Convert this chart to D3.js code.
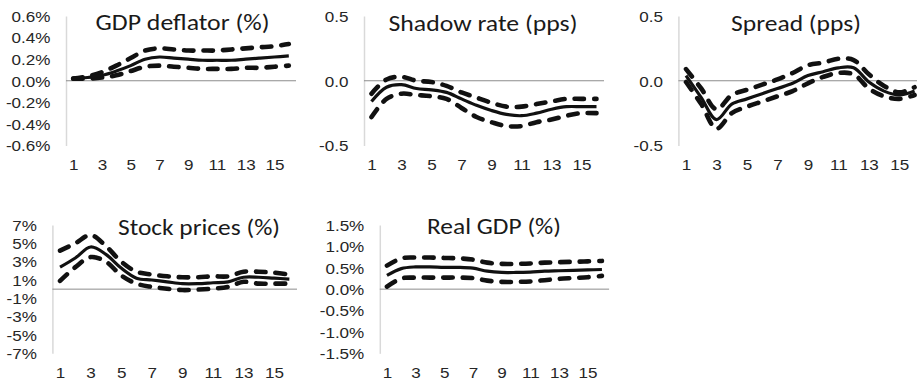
<!DOCTYPE html>
<html>
<head>
<meta charset="utf-8">
<script src="https://cdn.jsdelivr.net/npm/d3@7"></script>
<style>
  html, body { margin: 0; padding: 0; background: #fff; }
  svg { display: block; }
</style>
</head>
<body>
<svg id="chart" width="917" height="385"></svg>
<script>
// Impulse-response horizons and axis labels
const horizons = d3.range(1, 17);
const xTickLabels = [1, 3, 5, 7, 9, 11, 13, 15];

const deflatorTicks = [-0.6, -0.4, -0.2, 0, 0.2, 0.4, 0.6];
const rateTicks = [-0.5, 0, 0.5];
const stockTicks = [-7, -5, -3, -1, 1, 3, 5, 7];
const realGdpTicks = [-1.5, -1, -0.5, 0, 0.5, 1, 1.5];

// GDP deflator (%)
const deflatorMedian = [0.02, 0.03, 0.05, 0.09, 0.14, 0.20, 0.22, 0.21, 0.20, 0.19, 0.19, 0.19, 0.20, 0.21, 0.22, 0.23];
const deflatorUpper  = [0.02, 0.04, 0.08, 0.14, 0.21, 0.28, 0.30, 0.29, 0.28, 0.28, 0.28, 0.29, 0.30, 0.31, 0.32, 0.34];
const deflatorLower  = [0.02, 0.02, 0.03, 0.05, 0.09, 0.13, 0.14, 0.13, 0.12, 0.11, 0.11, 0.11, 0.12, 0.12, 0.13, 0.14];

// Shadow rate (pps)
const shadowMedian = [-0.16, -0.05, -0.03, -0.06, -0.07, -0.09, -0.14, -0.19, -0.23, -0.26, -0.27, -0.25, -0.22, -0.20, -0.20, -0.20];
const shadowUpper  = [-0.10, 0.01, 0.03, 0.00, -0.01, -0.04, -0.09, -0.13, -0.17, -0.20, -0.20, -0.18, -0.16, -0.14, -0.14, -0.14];
const shadowLower  = [-0.28, -0.14, -0.10, -0.11, -0.12, -0.14, -0.21, -0.28, -0.32, -0.35, -0.35, -0.32, -0.30, -0.27, -0.25, -0.25];

// Spread (pps)
const spreadMedian = [0.04, -0.13, -0.30, -0.18, -0.14, -0.10, -0.06, -0.02, 0.04, 0.07, 0.10, 0.10, -0.01, -0.08, -0.11, -0.08];
const spreadUpper  = [0.09, -0.06, -0.22, -0.11, -0.07, -0.03, 0.01, 0.06, 0.12, 0.14, 0.17, 0.16, 0.05, -0.04, -0.09, -0.05];
const spreadLower  = [-0.01, -0.18, -0.37, -0.25, -0.20, -0.16, -0.12, -0.08, -0.02, 0.03, 0.06, 0.05, -0.06, -0.12, -0.14, -0.11];

// Stock prices (%)
const stockMedian = [2.4, 3.4, 4.6, 3.8, 2.3, 1.2, 1.0, 0.8, 0.6, 0.6, 0.7, 0.8, 1.3, 1.3, 1.2, 1.1];
const stockUpper  = [4.2, 5.0, 5.9, 4.7, 3.0, 1.9, 1.6, 1.4, 1.3, 1.3, 1.4, 1.4, 1.9, 1.9, 1.8, 1.6];
const stockLower  = [0.9, 2.4, 3.5, 3.0, 1.5, 0.6, 0.25, 0.05, -0.1, -0.05, 0.05, 0.25, 0.8, 0.6, 0.6, 0.6];

// Real GDP (%)
const realGdpMedian = [0.32, 0.48, 0.52, 0.52, 0.51, 0.51, 0.49, 0.42, 0.39, 0.39, 0.40, 0.42, 0.43, 0.44, 0.45, 0.46];
const realGdpUpper  = [0.55, 0.72, 0.74, 0.74, 0.73, 0.72, 0.69, 0.62, 0.59, 0.59, 0.60, 0.62, 0.63, 0.64, 0.65, 0.66];
const realGdpLower  = [0.06, 0.25, 0.27, 0.27, 0.27, 0.27, 0.26, 0.20, 0.17, 0.17, 0.18, 0.21, 0.24, 0.26, 0.28, 0.31];

const pct1 = d => d.toFixed(1) + "%";
const pct0 = d => d.toFixed(0) + "%";
const num1 = d => d.toFixed(1);

const panels = [
  { title: "GDP deflator (%)", median: deflatorMedian, upper: deflatorUpper, lower: deflatorLower,
    domain: [-0.6, 0.6], ticks: deflatorTicks, fmt: pct1,
    left: 66, width: 230, top: 16, bottom: 145.5, labelY: 170, titleX: 182.6, titleY: 30, titleW: 174 },
  { title: "Shadow rate (pps)", median: shadowMedian, upper: shadowUpper, lower: shadowLower,
    domain: [-0.5, 0.5], ticks: rateTicks, fmt: num1,
    left: 364, width: 240, top: 16, bottom: 145.5, labelY: 170, titleX: 483, titleY: 31, titleW: 189 },
  { title: "Spread (pps)", median: spreadMedian, upper: spreadUpper, lower: spreadLower,
    domain: [-0.5, 0.5], ticks: rateTicks, fmt: num1,
    left: 678.4, width: 243.8, top: 16, bottom: 145.5, labelY: 170, titleX: 796, titleY: 31, titleW: 130 },
  { title: "Stock prices (%)", median: stockMedian, upper: stockUpper, lower: stockLower,
    domain: [-7, 7], ticks: stockTicks, fmt: pct0,
    left: 52.4, width: 244.6, top: 225, bottom: 353.3, labelY: 378, titleX: 199, titleY: 235, titleW: 162 },
  { title: "Real GDP (%)", median: realGdpMedian, upper: realGdpUpper, lower: realGdpLower,
    domain: [-1.5, 1.5], ticks: realGdpTicks, fmt: pct1,
    left: 379.8, width: 229.3, top: 225, bottom: 353.3, labelY: 378, titleX: 494, titleY: 233.5, titleW: 134 }
];

const svg = d3.select("#chart");
const labelStretch = 1.17;
const labelFont = "'Liberation Sans', Arial, sans-serif";

panels.forEach(p => {
  const g = svg.append("g");
  const x = d3.scalePoint().domain(horizons).range([p.left, p.left + p.width]).padding(0.5);
  const y = d3.scaleLinear().domain(p.domain).range([p.bottom, p.top]);

  // vertical value axis
  const yAxis = g.append("g")
    .attr("transform", `translate(${p.left},0)`)
    .call(d3.axisLeft(y).tickValues(p.ticks).tickFormat(p.fmt).tickSize(0).tickPadding(0));
  yAxis.select(".domain").attr("stroke", "#d9d9d9").attr("stroke-width", 1.5);
  yAxis.selectAll("text")
    .attr("x", 0)
    .attr("dy", "0.36em")
    .attr("transform", `translate(-15.5,0) scale(${labelStretch},1)`)
    .attr("font-family", labelFont)
    .attr("font-size", 14.6)
    .attr("fill", "#262626");

  // zero line
  g.append("line")
    .attr("x1", p.left).attr("x2", p.left + p.width)
    .attr("y1", y(0)).attr("y2", y(0))
    .attr("stroke", "#8c8c8c").attr("stroke-width", 1);

  // horizon labels along the bottom
  const xAxis = g.append("g")
    .attr("transform", `translate(0,${p.labelY})`)
    .call(d3.axisBottom(x).tickValues(xTickLabels).tickSize(0).tickPadding(0));
  xAxis.select(".domain").remove();
  xAxis.selectAll("text")
    .attr("y", 0).attr("dy", 0)
    .attr("transform", `scale(${labelStretch},1)`)
    .attr("font-family", labelFont)
    .attr("font-size", 14.6)
    .attr("fill", "#262626");

  const line = d3.line()
    .x((d, i) => x(horizons[i]))
    .y(d => y(d))
    .curve(d3.curveCatmullRom);

  [p.upper, p.lower].forEach(band => {
    g.append("path")
      .attr("d", line(band))
      .attr("fill", "none")
      .attr("stroke", "#111")
      .attr("stroke-width", 4.6)
      .attr("stroke-dasharray", "9.5 10")
      .attr("stroke-linecap", "round")
      .attr("stroke-linejoin", "round");
  });

  g.append("path")
    .attr("d", line(p.median))
    .attr("fill", "none")
    .attr("stroke", "#111")
    .attr("stroke-width", 3.2)
    .attr("stroke-linejoin", "round");

  g.append("text")
    .attr("x", p.titleX)
    .attr("y", p.titleY)
    .attr("text-anchor", "middle")
    .attr("font-family", "Carlito, Lato, 'Open Sans', sans-serif")
    .attr("font-size", 21.5)
    .attr("fill", "#1a1a1a")
    .attr("textLength", p.titleW)
    .attr("lengthAdjust", "spacingAndGlyphs")
    .text(p.title);
});
</script>
</body>
</html>
